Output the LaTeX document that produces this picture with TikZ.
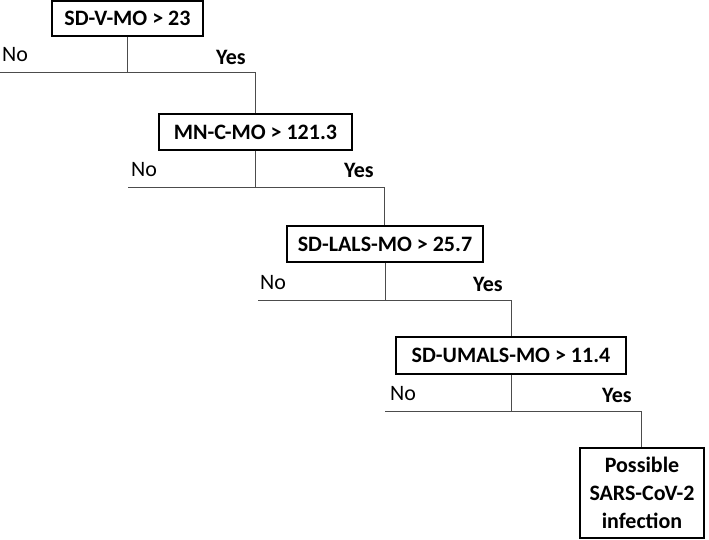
\documentclass[tikz,border=0pt]{standalone}
\usepackage{fontspec}
\setmainfont{Carlito}
\begin{document}
\begin{tikzpicture}[x=1pt,y=-1pt,
  box/.style={draw=black, line width=1.3pt, inner sep=0pt, font=\fontsize{22}{28}\selectfont\bfseries, align=center},
  conn/.style={draw=black!70, line width=0.9pt},
  nolab/.style={inner sep=0pt, font=\fontsize{22}{26}\selectfont},
  yeslab/.style={inner sep=0pt, font=\fontsize{22}{26}\selectfont\bfseries}]
\useasboundingbox (0,0) rectangle (709,539);
% boxes
\node[box, minimum width=151pt, minimum height=35pt] (b1) at (127.5,18.5) {SD-V-MO > 23};
\node[box, minimum width=193pt, minimum height=36pt] (b2) at (255.5,132) {MN-C-MO > 121.3};
\node[box, minimum width=196pt, minimum height=36pt] (b3) at (385,244) {SD-LALS-MO > 25.7};
\node[box, minimum width=230pt, minimum height=37pt] (b4) at (511,355.5) {SD-UMALS-MO > 11.4};
\node[box, minimum width=124pt, minimum height=90pt] (b5) at (642,493) {Possible\\SARS-CoV-2\\infection};
% free ends of branches
\coordinate (l1) at (0,72);   \coordinate (r1) at (255.5,72);
\coordinate (l2) at (128,187); \coordinate (r2) at (384,187);
\coordinate (l3) at (258,300); \coordinate (r3) at (511,300);
\coordinate (l4) at (385,411); \coordinate (r4) at (641,411);
% connectors
\draw[conn] (b1.south) -- (b1.south |- l1);
\draw[conn] (l1) -- (r1) -- (b2.north);
\draw[conn] (b2.south) -- (b2.south |- l2);
\draw[conn] (l2) -- (r2) -- (r2 |- b3.north);
\draw[conn] (b3.south) -- (b3.south |- l3);
\draw[conn] (l3) -- (r3) -- (b4.north);
\draw[conn] (b4.south) -- (b4.south |- l4);
\draw[conn] (l4) -- (r4) -- (r4 |- b5.north);
% labels
\node[nolab] (n1) at (15,55) {No};
\node[yeslab] (y1) at (231,57) {Yes};
\node[nolab] (n2) at (144,170) {No};
\node[yeslab] (y2) at (359,170) {Yes};
\node[nolab] (n3) at (273,283) {No};
\node[yeslab] (y3) at (488,284) {Yes};
\node[nolab] (n4) at (403,394) {No};
\node[yeslab] (y4) at (617,395) {Yes};
\end{tikzpicture}
\end{document}
